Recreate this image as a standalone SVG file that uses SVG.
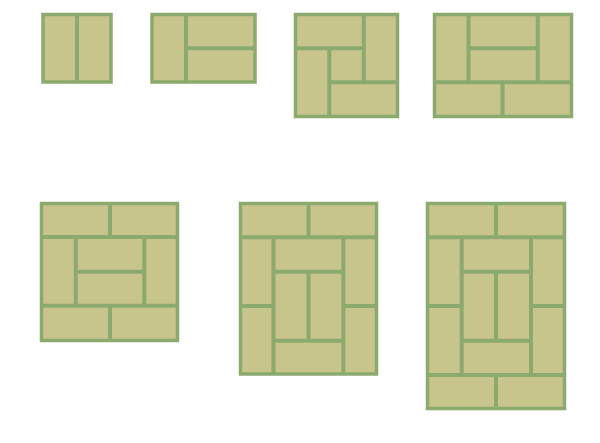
<svg xmlns="http://www.w3.org/2000/svg" width="600" height="443" viewBox="0 0 600 443">
<style>
.mat{fill:#c7c48c;stroke:#8aaa6e;stroke-width:3.5}
.ln{stroke:#8aaa6e;stroke-width:4;fill:none;stroke-linecap:butt}
</style>
<rect width="600" height="443" fill="#ffffff"/>
<g id="plan-2">
<rect class="mat" x="43" y="14.5" width="68" height="67.5"/>
<path class="ln" d="M77 14.5V82"/>
</g>
<g id="plan-3">
<rect class="mat" x="152" y="14.5" width="103" height="67.5"/>
<path class="ln" d="M186 14.5V82M186 48.3H255"/>
</g>
<g id="plan-4-5">
<rect class="mat" x="295.5" y="14.5" width="102" height="102"/>
<path class="ln" d="M363.8 14.5V82.3M295.5 48.3H363.8M329.3 48.3V116.5M329.3 82.3H397.5"/>
</g>
<g id="plan-6">
<rect class="mat" x="434.5" y="14.5" width="137" height="102"/>
<path class="ln" d="M468.5 14.5V82.3M537.8 14.5V82.3M468.5 48.3H537.8M434.5 82.3H571.5M502.5 82.3V116.5"/>
</g>
<g id="plan-8">
<rect class="mat" x="41.5" y="203.5" width="136" height="137"/>
<path class="ln" d="M110 203.5V237M41.5 237H177.5M75.8 237V305.7M144.3 237V305.7M75.8 271.7H144.3M41.5 305.7H177.5M110 305.7V340.5"/>
</g>
<g id="plan-10">
<rect class="mat" x="240.5" y="203.5" width="136" height="170.5"/>
<path class="ln" d="M308.5 203.5V237.3M240.5 237.3H376.5M273.5 237.3V374M343.3 237.3V374M240.5 306H273.5M343.3 306H376.5M273.5 271.7H343.3M273.5 340.7H343.3M308.5 271.7V340.7"/>
</g>
<g id="plan-12">
<rect class="mat" x="427.5" y="203.5" width="137" height="205"/>
<path class="ln" d="M496 203.5V237.3M427.5 237.3H564.5M461.7 237.3V375M531 237.3V375M427.5 306H461.7M531 306H564.5M461.7 271.7H531M461.7 340.7H531M496 271.7V340.7M427.5 375H564.5M496 375V408.5"/>
</g>
<g id="connectors"/>
</svg>
